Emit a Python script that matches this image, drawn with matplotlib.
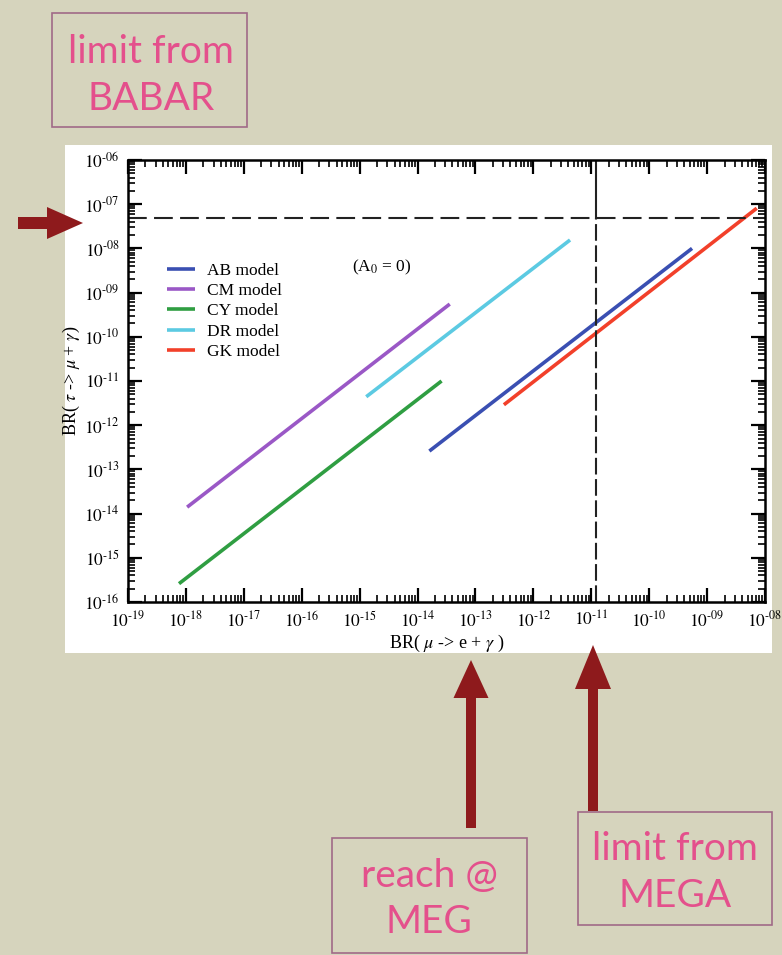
import numpy as np
import matplotlib
matplotlib.use('Agg')
import matplotlib.pyplot as plt
from matplotlib.patches import Rectangle, FancyArrow
from matplotlib.ticker import LogLocator, FuncFormatter, NullFormatter

# model lines: BR(mu -> e gamma) vs BR(tau -> mu gamma)
models = ['AB model', 'CM model', 'CY model', 'DR model', 'GK model']
colors = ['#3a4fb2', '#9a58c6', '#2f9e42', '#5ccae2', '#f2402a']
mu_start = [1.6e-14, 1.05e-18, 7.6e-19, 1.3e-15, 3.1e-13]
mu_end = [5.5e-10, 3.6e-14, 2.6e-14, 4.3e-12, 7.2e-9]
tau_start = [2.6e-13, 1.4e-14, 2.6e-16, 4.4e-12, 2.9e-12]
tau_end = [1.0e-8, 5.5e-10, 1.0e-11, 1.55e-8, 8.1e-8]

babar_limit = 5e-8    # tau -> mu gamma
mega_limit = 1.2e-11  # mu -> e gamma

bg = '#d6d4bd'
pink = '#e4508c'
box_edge = '#a06a88'
arrow_red = '#8e1a1c'

plt.rcParams['font.family'] = 'Liberation Serif'
plt.rcParams['mathtext.fontset'] = 'stix'

W, H = 782, 955
fig = plt.figure(figsize=(W / 100, H / 100), dpi=100)
fig.patch.set_facecolor(bg)

# slide layer in pixel coords (y down)
bga = fig.add_axes([0, 0, 1, 1], zorder=0)
bga.set_xlim(0, W)
bga.set_ylim(H, 0)
bga.axis('off')
bga.add_patch(Rectangle((65, 145), 707, 508, facecolor='white', edgecolor='none'))

# main plot
ax = fig.add_axes([128 / W, 1 - 602 / H, 637 / W, 442 / H], zorder=1)
ax.set_facecolor('white')
ax.set_xscale('log')
ax.set_yscale('log')
ax.set_xlim(1e-19, 1e-8)
ax.set_ylim(1e-16, 1e-6)

for m, c, x0, x1, y0, y1 in zip(models, colors, mu_start, mu_end, tau_start, tau_end):
    ax.plot([x0, x1], [y0, y1], color=c, lw=2.6, solid_capstyle='butt', label=m)

ax.axhline(babar_limit, color='#222222', lw=1.5, dashes=(9, 3.5))
ax.plot([mega_limit, mega_limit], [babar_limit, 1e-6], color='#222222', lw=1.5)
ax.plot([mega_limit, mega_limit], [1e-16, babar_limit], color='#222222', lw=1.5, dashes=(8, 2.2))

fmt = FuncFormatter(lambda v, p: r'$10^{\text{-}%02d}$' % round(-np.log10(v)))
for axis in (ax.xaxis, ax.yaxis):
    axis.set_major_locator(LogLocator(base=10, numticks=30))
    axis.set_minor_locator(LogLocator(base=10, subs=np.arange(2, 10), numticks=300))
    axis.set_major_formatter(fmt)
    axis.set_minor_formatter(NullFormatter())

ax.tick_params(which='both', direction='in', top=True, right=True)
ax.tick_params(which='major', length=10, width=1.6, labelsize=12.5, pad=6)
ax.tick_params(which='minor', length=5, width=1.2)
for s in ax.spines.values():
    s.set_linewidth(1.8)

ax.set_xlabel(r'BR( $\mu$ -> e + $\gamma$ )', fontsize=13, labelpad=2)
ax.set_ylabel(r'BR( $\tau$ -> $\mu$ + $\gamma$)', fontsize=13)
ax.yaxis.set_label_coords(-0.072, 0.5)

ax.legend(loc='upper left', bbox_to_anchor=(0.061, 0.768), frameon=False,
          fontsize=12.5, handlelength=1.6, handletextpad=0.7, labelspacing=0.24,
          borderpad=0, borderaxespad=0)
ax.text(0.352, 0.756, r'(A$_0$ = 0)', transform=ax.transAxes, fontsize=12.5,
        ha='left', va='center')

# annotation boxes
boxes = [((52, 13), 195, 114, 'limit from', 'BABAR', 151, 63, 110),
         ((332, 838), 195, 115, 'reach @', 'MEG', 429, 887, 933),
         ((578, 812), 194, 113, 'limit from', 'MEGA', 675, 860, 907)]
for (bx, by), bw, bh, t1, t2, tx, ty1, ty2 in boxes:
    bga.add_patch(Rectangle((bx, by), bw, bh, facecolor='none', edgecolor=box_edge, lw=1.2))
    bga.text(tx, ty1, t1, color=pink, fontsize=28, family='Lato', ha='center', va='baseline')
    bga.text(tx, ty2, t2, color=pink, fontsize=28, family='Lato', ha='center', va='baseline')

# arrows
bga.add_patch(FancyArrow(18, 223, 65, 0, width=12, head_width=32, head_length=36,
                         length_includes_head=True, color=arrow_red, lw=0))
bga.add_patch(FancyArrow(471, 828, 0, -168, width=10, head_width=35, head_length=38,
                         length_includes_head=True, color=arrow_red, lw=0))
bga.add_patch(FancyArrow(593, 811, 0, -166, width=10, head_width=36, head_length=44,
                         length_includes_head=True, color=arrow_red, lw=0))

fig.savefig('out.png', dpi=100, facecolor=fig.get_facecolor())
